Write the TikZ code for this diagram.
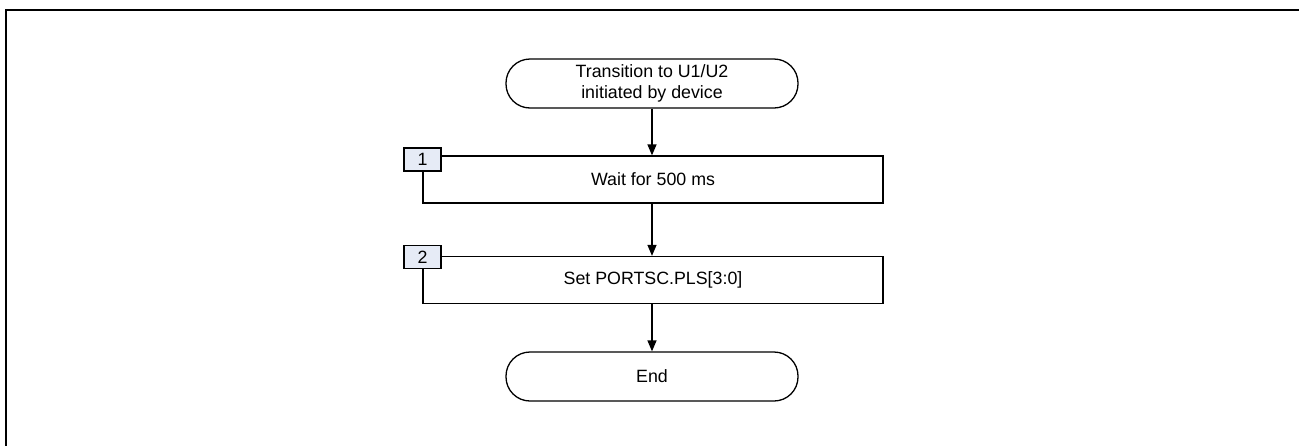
\documentclass[tikz,border=0pt]{standalone}
\usepackage{fontspec}
\setmainfont{Liberation Sans}
\usetikzlibrary{arrows.meta}
\definecolor{tagfill}{RGB}{230,235,246}
\tikzset{
  txt/.style={font=\fontsize{17.8}{20.5}\selectfont, align=center},
  term/.style={txt, draw, line width=1.3pt, rounded corners=24pt, minimum width=292pt, minimum height=49pt, inner sep=0pt},
  proc/.style={txt, draw, line width=1.3pt, minimum width=460pt, minimum height=47pt, inner sep=0pt},
  tag/.style={txt, draw, line width=1.3pt, fill=tagfill, minimum width=37pt, minimum height=23pt, inner sep=0pt},
  flow/.style={line width=1.3pt, -{Triangle[length=11pt,width=9pt]}},
  frame/.style={line width=2.3pt}
}
\begin{document}
\begin{tikzpicture}[x=1pt,y=-1pt]
\useasboundingbox (0,0) rectangle (1299,445);
\draw[frame] (6,446) -- (6,10) -- (1300,10);
\node[term] (start) at (652,83.5) {Transition to U1/U2\\initiated by device};
\node[proc] (s1) at (653,179.5) {Wait for 500 ms};
\node[tag] (t1) at (422.5,159.5) {1};
\node[proc] (s2) at (653,280) {Set PORTSC.PLS[3:0]};
\node[tag] (t2) at (422.5,257) {2};
\node[term] (end) at (652,376.5) {End};
\draw[flow] (start.south) -- (start.south |- s1.north);
\draw[flow] (start.south |- s1.south) -- (start.south |- s2.north);
\draw[flow] (start.south |- s2.south) -- (end.north);
\end{tikzpicture}
\end{document}
